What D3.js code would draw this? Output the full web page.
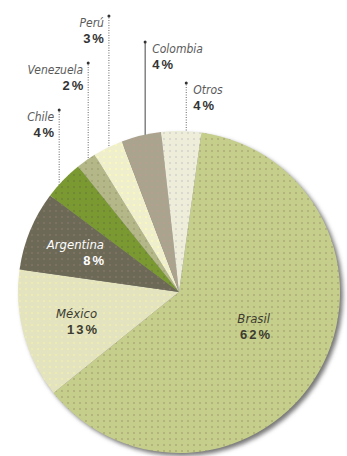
<!DOCTYPE html>
<html><head><meta charset="utf-8">
<script src="https://cdn.jsdelivr.net/npm/d3@7"></script>
<style>
html,body{margin:0;padding:0;background:#fff;}
svg{display:block;}
</style></head>
<body>
<script>
// ---- data ----
const countries = ["Brasil","México","Argentina","Chile","Venezuela","Perú","Colombia","Otros"];
const shares    = [62, 13, 8, 4, 2, 3, 4, 4];
const pctLabels = ["62%","13%","8%","4%","2%","3%","4%","4%"];

// ---- styles / layout (not data) ----
const baseColors = ["#c6ce8b","#e3e3bf","#6d6957","#7a9a31","#b4b889","#efefcd","#aaa38e","#ededd9"];
const dotColors  = ["#a49c72","#f4f4a8","#8a7a6a","#6a7a40","#9a9a70","#ffffb0","#c09a90","#c8c8c8"];
const W = 347, H = 456, cx = 179, cy = 292, R = 161;
const startDeg = 8;
const nameFont = "'DejaVu Sans Condensed','Liberation Sans Narrow','Arial Narrow',sans-serif";
const pctFont = "'Liberation Sans','Arial',sans-serif";
// inside labels: anchor (end) relative to center in units of R
const insideLayout = {
  "Brasil":   {x: 0.565, y: 0.224, color: "#3c3c30"},
  "México":   {x: -0.509, y: 0.193, color: "#3c3c30"},
  "Argentina":{x: -0.466, y: -0.236, color: "#ffffff"}
};
// outside labels: top of leader line, x nudge, side
const outsideLayout = {
  "Chile":    {top: 109, dx: -4, side: "left",  solid: false},
  "Venezuela":{top: 62,  dx: 2,  side: "left",  solid: false},
  "Perú":     {top: 15,  dx: 1,  side: "left",  solid: false},
  "Colombia": {top: 41,  dx: 4,  side: "right", solid: true},
  "Otros":    {top: 82,  dx: 5,  side: "right", solid: false}
};

const svg = d3.select("body").append("svg").attr("width", W).attr("height", H);
const defs = svg.append("defs");

// textures
baseColors.forEach((c, i) => {
  const p = defs.append("pattern").attr("id", "pat" + i)
    .attr("patternUnits", "userSpaceOnUse").attr("width", 6).attr("height", 6);
  p.append("rect").attr("width", 6).attr("height", 6).attr("fill", c);
  p.append("rect").attr("x", 2).attr("y", 2).attr("width", 2).attr("height", 2)
    .attr("fill", dotColors[i]).attr("opacity", 0.55);
});
const f = defs.append("filter").attr("id", "shadow")
  .attr("x", "-10%").attr("y", "-10%").attr("width", "130%").attr("height", "130%");
f.append("feGaussianBlur").attr("stdDeviation", 2.2);

const data = countries.map((c, i) => ({name: c, value: shares[i], pct: pctLabels[i], idx: i}));
const toRad = d => d * Math.PI / 180;
const pie = d3.pie().sort(null).value(d => d.value)
  .startAngle(toRad(startDeg)).endAngle(toRad(startDeg) + 2 * Math.PI);
const arcs = pie(data);
const arc = d3.arc().innerRadius(0).outerRadius(R);

const g = svg.append("g").attr("transform", `translate(${cx},${cy})`);

// leader lines (behind the pie)
const lines = g.append("g");
arcs.filter(a => outsideLayout[a.data.name]).forEach(a => {
  const L = outsideLayout[a.data.name];
  const mid = (a.startAngle + a.endAngle) / 2;
  const x = R * Math.sin(mid) + L.dx;
  const yTop = L.top - cy;
  lines.append("line").attr("x1", x).attr("x2", x).attr("y1", yTop).attr("y2", 0)
    .attr("stroke", L.solid ? "#444" : "#666").attr("stroke-width", 1)
    .attr("stroke-dasharray", L.solid ? null : "1,1.5");
  lines.append("circle").attr("cx", x).attr("cy", yTop + 1).attr("r", 1.5).attr("fill", "#333");
  const left = L.side === "left";
  const tx = left ? x - 5 : x + 7;
  const anchor = left ? "end" : "start";
  lines.append("text").attr("x", tx).attr("y", yTop + 12).attr("text-anchor", anchor)
    .attr("font-family", nameFont)
    .attr("font-style", "italic").attr("font-size", 12).attr("fill", "#5a5a5a")
    .text(a.data.name);
  lines.append("text").attr("x", left ? tx + 2 : tx).attr("y", yTop + 28).attr("text-anchor", anchor)
    .attr("font-family", pctFont)
    .attr("font-weight", "bold").attr("font-size", 13).attr("letter-spacing", 2).attr("fill", "#333")
    .text(a.data.pct);
});

// shadow
g.append("circle").attr("cx", 3).attr("cy", 3).attr("r", R).attr("fill", "#777")
  .attr("filter", "url(#shadow)");

// slices
g.append("g").selectAll("path").data(arcs).join("path")
  .attr("d", arc).attr("fill", d => `url(#pat${d.data.idx})`);

// inside labels
arcs.filter(a => insideLayout[a.data.name]).forEach(a => {
  const L = insideLayout[a.data.name];
  const x = L.x * R, y = L.y * R;
  g.append("text").attr("x", x).attr("y", y - 5).attr("text-anchor", "end")
    .attr("font-family", nameFont)
    .attr("font-style", "italic").attr("font-size", 13).attr("fill", L.color)
    .text(a.data.name);
  g.append("text").attr("x", x + 2).attr("y", y + 11).attr("text-anchor", "end")
    .attr("font-family", pctFont)
    .attr("font-weight", "bold").attr("font-size", 13).attr("letter-spacing", 2).attr("fill", L.color)
    .text(a.data.pct);
});
</script>
</body></html>
